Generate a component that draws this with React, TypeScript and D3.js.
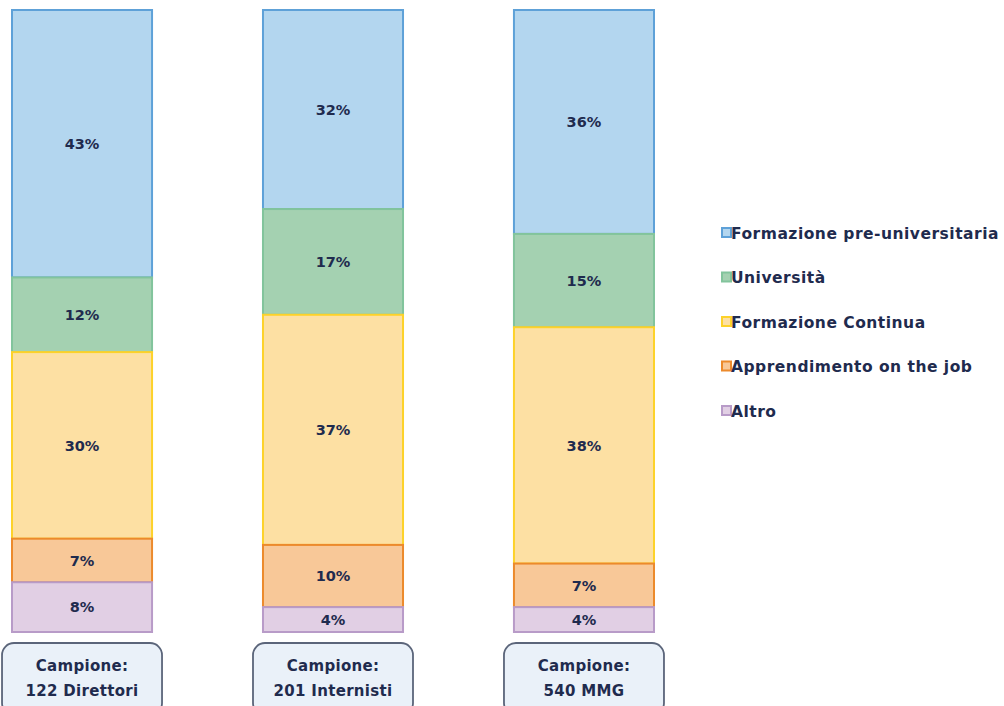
import React from "react";
import * as d3 from "d3";

const categories = ["Formazione pre-universitaria", "Università", "Formazione Continua", "Apprendimento on the job", "Altro"];
const samples = ["122 Direttori", "201 Internisti", "540 MMG"];
const preUni = [43, 32, 36];
const universita = [12, 17, 15];
const continua = [30, 37, 38];
const onTheJob = [7, 10, 7];
const altro = [8, 4, 4];

const fills = ["#b3d6ef", "#a4d1b1", "#fde0a3", "#f8c898", "#e1cfe4"];
const strokes = ["#5ea1d8", "#82c49c", "#fdd22a", "#ec8a2c", "#b89bc8"];
const textColor = "#1f2b4e";
const FONT = "'DejaVu Sans', Verdana, sans-serif";

export default function App() {
  const W = 1004, H = 706;
  const series = [preUni, universita, continua, onTheJob, altro];
  const rows = samples.map((s, i) => {
    const r: any = { sample: s };
    categories.forEach((c, k) => (r[c] = series[k][i]));
    return r;
  });
  const stacked = d3.stack<any>().keys(categories)(rows);

  const x = d3.scaleBand<string>().domain(samples).range([12, 654]).paddingInner(0.442).paddingOuter(0);
  const y = d3.scaleLinear().domain([0, 100]).range([10, 632]);

  const bw = x.bandwidth();

  return (
    <svg width={W} height={H} style={{ position: "absolute", left: 0, top: 0, background: "#fff" }}>
      {stacked.map((layer, k) => (
        <g key={k}>
          {layer.map((d, i) => {
            const x0 = x(samples[i])!;
            const y0 = y(d[0]);
            const y1 = y(d[1]);
            return (
              <g key={i}>
                <rect x={x0} y={y0} width={bw} height={y1 - y0} fill={fills[k]} stroke={strokes[k]} strokeWidth={2} />
                <text
                  x={x0 + bw / 2}
                  y={(y0 + y1) / 2}
                  dy="0.36em"
                  textAnchor="middle"
                  fontFamily={FONT}
                  fontWeight="bold"
                  fontSize={14.5}
                  fill={textColor}
                >
                  {series[k][i]}%
                </text>
              </g>
            );
          })}
        </g>
      ))}
      {samples.map((s, i) => {
        const cx = x(s)! + bw / 2;
        return (
          <g key={s}>
            <rect x={cx - 80} y={643} width={160} height={72} rx={12} fill="#eaf1f9" stroke="#5b657a" strokeWidth={1.8} />
            <text x={cx} y={671} textAnchor="middle" fontFamily={FONT} fontWeight="bold" fontSize={15} letterSpacing={0.3} fill={textColor}>
              Campione:
            </text>
            <text x={cx} y={696} textAnchor="middle" fontFamily={FONT} fontWeight="bold" fontSize={15} letterSpacing={0.3} fill={textColor}>
              {s}
            </text>
          </g>
        );
      })}
      {categories.map((c, k) => {
        const ly = 233 + k * 44.5;
        return (
          <g key={c}>
            <rect x={722} y={ly - 5} width={9} height={9} fill={fills[k]} stroke={strokes[k]} strokeWidth={2} />
            <text x={731} y={ly} dy="0.36em" fontFamily={FONT} fontWeight="bold" fontSize={15.5} letterSpacing={0.5} fill={textColor}>
              {c}
            </text>
          </g>
        );
      })}
    </svg>
  );
}
